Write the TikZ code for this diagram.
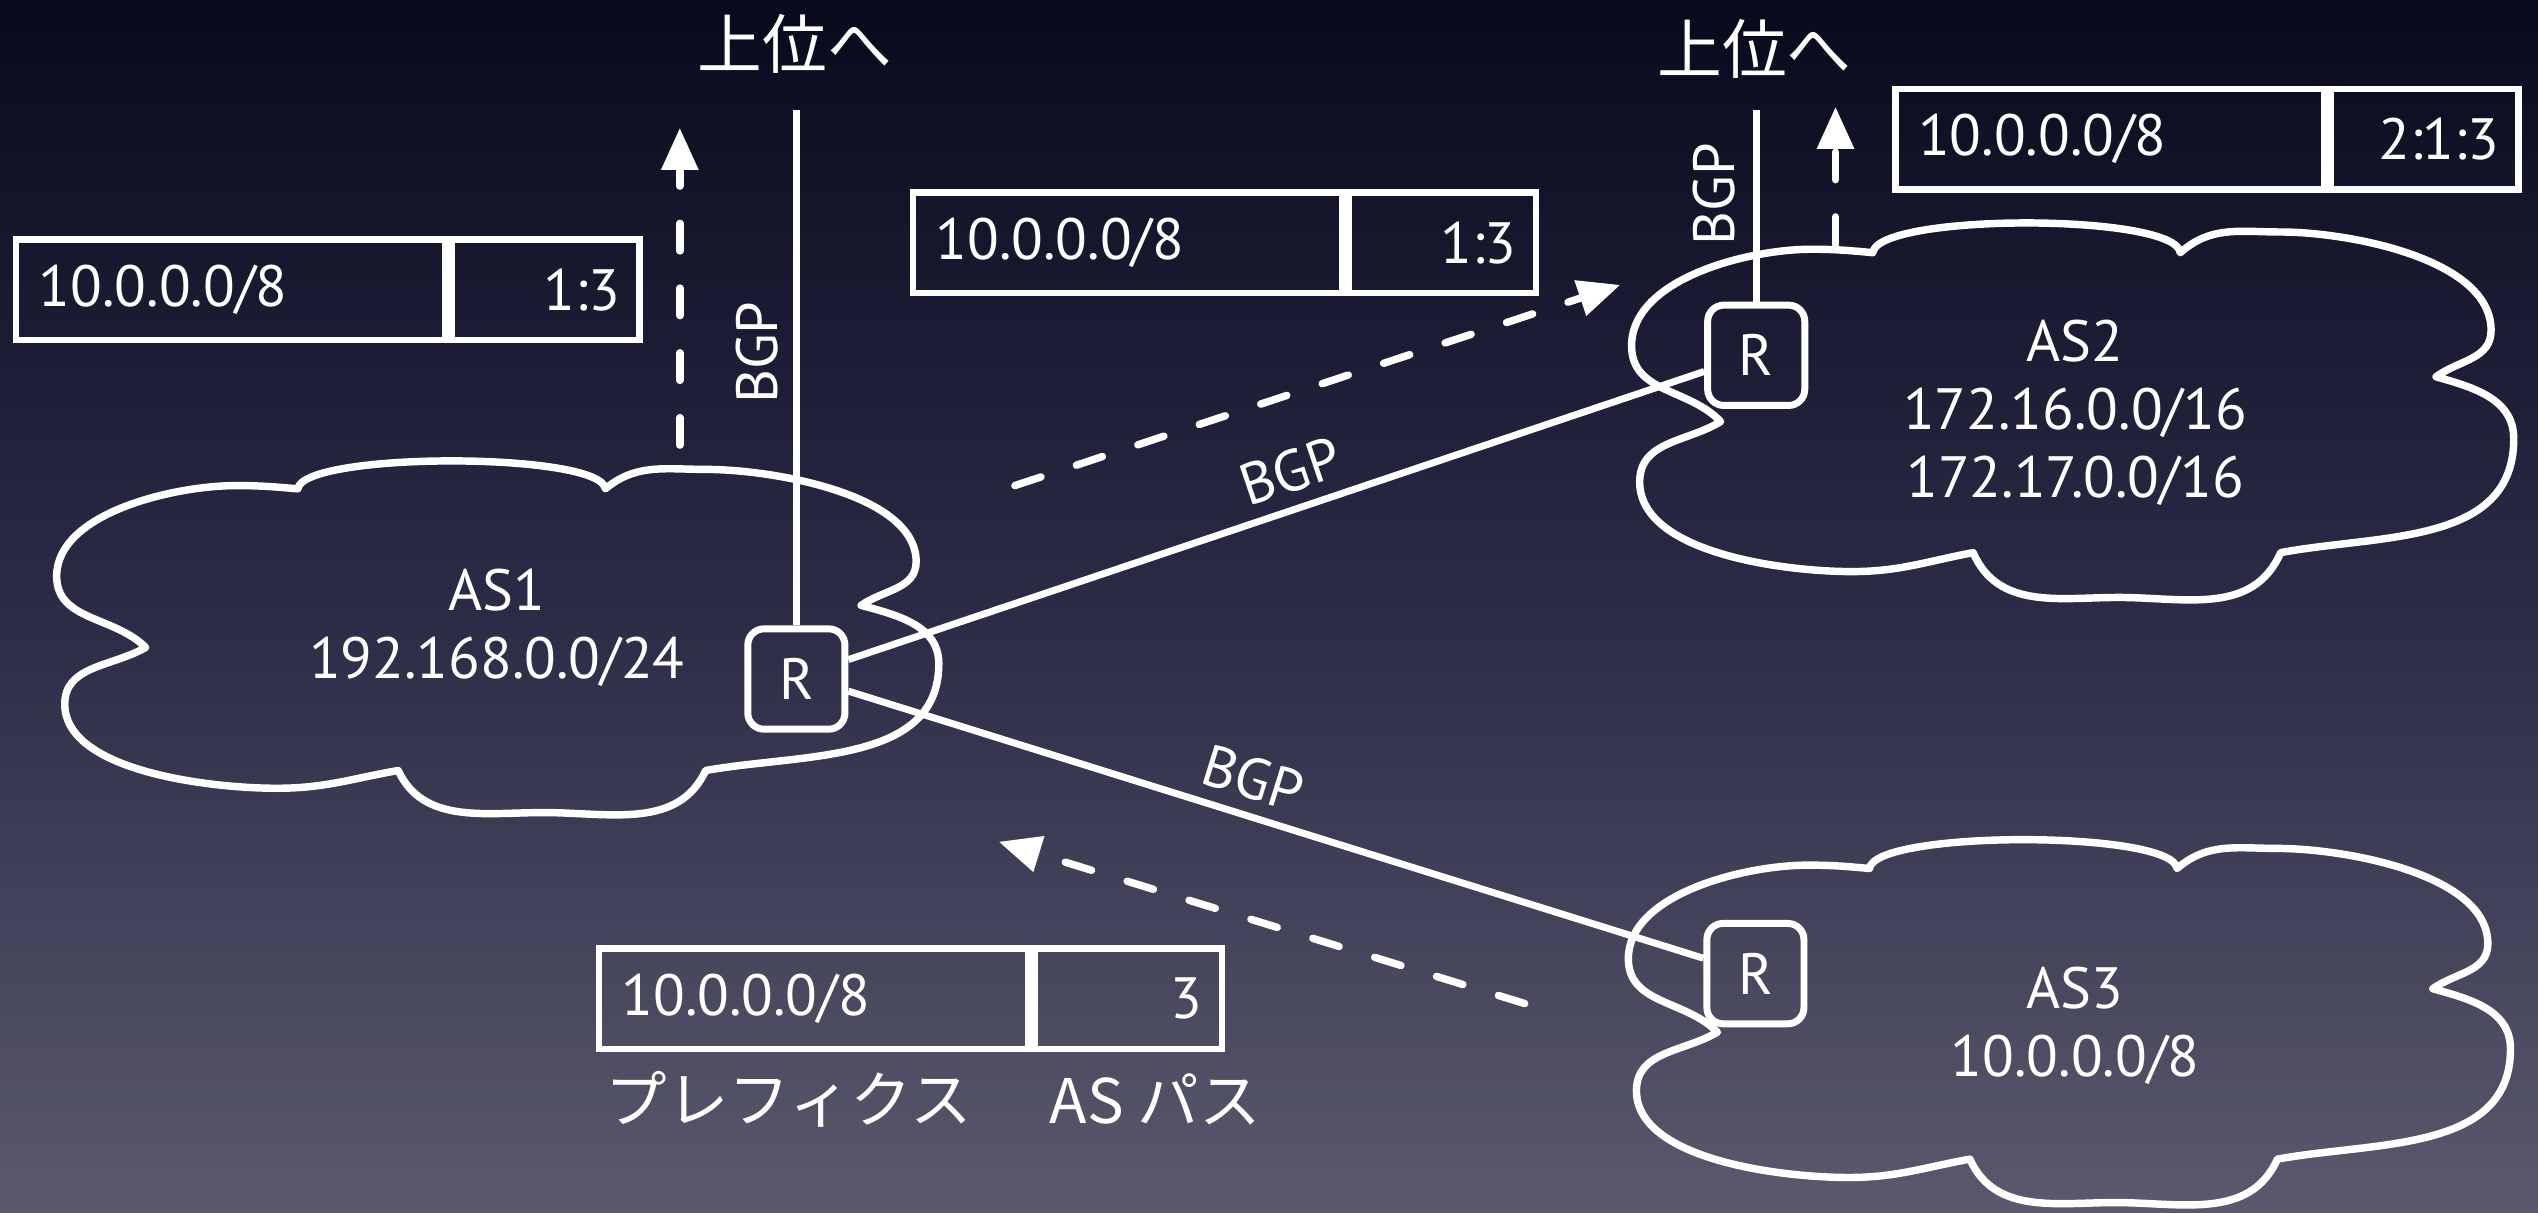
\documentclass[tikz,border=0pt]{standalone}
\usepackage{fontspec}
\setmainfont{PT Sans}
\newfontfamily\jpfont{Noto Sans CJK JP}
\usetikzlibrary{arrows.meta}
\definecolor{bgtop}{HTML}{080A1C}
\definecolor{bgmid}{HTML}{2B2B46}
\definecolor{bgbot}{HTML}{5A596D}
\newcommand{\txtfont}{\fontsize{36}{42}\selectfont}
\newcommand{\jpbig}{\jpfont\fontsize{40}{46}\selectfont}
\newcommand{\jpsmall}{\jpfont\fontsize{38}{44}\selectfont}
\newcommand{\cloudoutline}{
 (54,-115) to[out=135,in=270] (-1,-71)
 to[out=90,in=180,looseness=0.8] (110,-15)
 to[out=0,in=175] (148,-17)
 .. controls (151,6) and (335,6) .. (338,-17)
 to[out=40,in=180] (400,-5)
 to[out=0,in=90,looseness=0.75] (530,-62)
 to[out=270,in=35] (496,-89)
 to[out=-15,in=90] (544,-125)
 to[out=270,in=10] (400,-191)
 to[out=245,in=0] (300,-217)
 to[out=180,in=295] (210,-191)
 to[out=190,in=0] (135,-202)
 to[out=180,in=270,looseness=0.75] (4,-150)
 to[out=90,in=210] (54,-115) -- cycle}
\begin{document}
\begin{tikzpicture}[x=1pt,y=1pt,
  every node/.style={text=white},
  link/.style={draw=white, line width=4.3pt},
  dlink/.style={draw=white, line width=4.6pt, line cap=round, dash pattern=on 17pt off 23pt, -{Triangle[length=26pt,width=22pt]}},
  cloudline/.style={draw=white, line width=4.6pt, line join=round},
  rbox/.style={draw=white, line width=4.3pt, rounded corners=10pt, minimum width=60pt, minimum height=62pt, inner sep=0pt, font=\txtfont},
  cellL/.style={draw=white, line width=4pt, minimum width=265pt, minimum height=62pt, text width=237pt, align=left, inner sep=0pt, anchor=north west, font=\txtfont},
  cellR/.style={draw=white, line width=4pt, minimum width=116pt, minimum height=62pt, text width=92pt, align=right, inner sep=0pt, anchor=north west, font=\txtfont},
  lbl/.style={font=\txtfont, inner sep=0pt},
  cloudtext/.style={font=\txtfont, align=center, inner sep=0pt},
]
\useasboundingbox (0,0) rectangle (1568,-749.4);
\shade[top color=bgtop, bottom color=bgbot, middle color=bgmid] (0,0) rectangle (1568,-749.4);

% clouds
\draw[cloudline, shift={(36,-285)}] \cloudoutline;
\draw[cloudline, shift={(1009,-138)}, yscale=1.065] \cloudoutline;
\draw[cloudline, shift={(1007,-519)}, yscale=1.032] \cloudoutline;

\node[cloudtext] (as1) at (307,-388) {AS1\\192.168.0.0/24};
\node[cloudtext] (as2) at (1282,-255) {AS2\\172.16.0.0/16\\172.17.0.0/16};
\node[cloudtext] (as3) at (1282,-634) {AS3\\10.0.0.0/8};

% routers
\node[rbox] (r1) at (492,-419.5) {R};
\node[rbox] (r2) at (1085,-219.5) {R};
\node[rbox] (r3) at (1084.5,-601.5) {R};

% upstream
\node[font=\jpbig, inner sep=0pt] (up1) at (491,-27) {上位へ};
\node[font=\jpbig, inner sep=0pt] (up2) at (1084,-30) {上位へ};
\coordinate (top1) at (492,-68);
\coordinate (top2) at (1085,-68);
\draw[link] (r1) -- (top1);
\draw[link] (r2) -- (top2);
\node[lbl, rotate=90] (bgpv1) at (468,-218) {BGP};
\node[lbl, rotate=90] (bgpv2) at (1059,-120) {BGP};

% BGP sessions
\draw[link] ([yshift=12pt]r1.east) -- node[lbl, pos=0.53, sloped, above=8pt] (bgp12) {BGP} ([yshift=-10pt]r2.west);
\draw[link] ([yshift=-7.5pt]r1.east) -- node[lbl, pos=0.46, sloped, above=8pt] (bgp13) {BGP} ([yshift=9.5pt]r3.west);

% advertisement arrows
\coordinate (a1s) at (420,-275); \coordinate (a1e) at (420,-79);
\coordinate (a2s) at (1134,-151); \coordinate (a2e) at (1134,-66);
\coordinate (a3s) at (627,-300); \coordinate (a3e) at (1001,-176);
\coordinate (a4s) at (942,-620); \coordinate (a4e) at (617,-520);
\draw[dlink] (a1s) -- (a1e);
\draw[dlink] (a2s) -- (a2e);
\draw[dlink] (a3s) -- (a3e);
\draw[dlink] (a4s) -- (a4e);

% tables
\node[cellL] (t1p) at (8,-146) {10.0.0.0/8};
\node[cellR] (t1a) at (t1p.north east) {1:3};
\node[cellL] (t2p) at (562,-117) {10.0.0.0/8};
\node[cellR] (t2a) at (t2p.north east) {1:3};
\node[cellL] (t3p) at (1169,-53) {10.0.0.0/8};
\node[cellR] (t3a) at (t3p.north east) {2:1:3};
\node[cellL] (t4p) at (368,-584) {10.0.0.0/8};
\node[cellR] (t4a) at (t4p.north east) {3};

\node[font=\jpsmall, inner sep=0pt, anchor=west] (pfx) at (374,-679) {プレフィクス};
\node[font=\jpsmall, inner sep=0pt, anchor=east] (asp) at (779,-679) {AS パス};
\end{tikzpicture}
\end{document}
